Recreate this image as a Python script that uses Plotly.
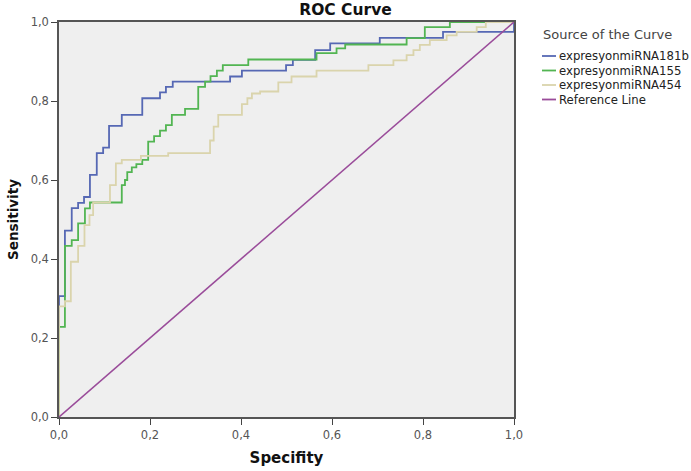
import plotly.graph_objects as go

# ROC step vertices (1 - specificity, sensitivity)
fpr_181b = [0, 0.013, 0.028, 0.042, 0.055, 0.068, 0.083, 0.097, 0.110, 0.138, 0.183, 0.222,
            0.235, 0.250, 0.376, 0.402, 0.499, 0.514, 0.563, 0.596, 0.705, 0.844, 1.0, 1.0]
tpr_181b = [0, 0.306, 0.472, 0.529, 0.542, 0.557, 0.613, 0.668, 0.682, 0.737, 0.765, 0.807,
            0.822, 0.836, 0.849, 0.862, 0.877, 0.891, 0.904, 0.929, 0.946, 0.960, 0.975, 1.0]

fpr_155 = [0, 0.013, 0.028, 0.042, 0.057, 0.068, 0.138, 0.145, 0.150, 0.160, 0.170, 0.183,
           0.196, 0.209, 0.222, 0.235, 0.248, 0.277, 0.306, 0.321, 0.333, 0.347, 0.360, 0.416,
           0.566, 0.610, 0.629, 0.764, 0.804, 0.859, 1.0]
tpr_155 = [0, 0.228, 0.433, 0.448, 0.490, 0.528, 0.543, 0.587, 0.600, 0.620, 0.632, 0.640,
           0.651, 0.697, 0.711, 0.725, 0.739, 0.765, 0.780, 0.836, 0.849, 0.863, 0.877, 0.891,
           0.905, 0.921, 0.933, 0.943, 0.959, 0.987, 1.0]

fpr_454 = [0, 0.013, 0.026, 0.042, 0.056, 0.067, 0.075, 0.112, 0.125, 0.138, 0.180, 0.240,
           0.332, 0.340, 0.350, 0.402, 0.414, 0.424, 0.442, 0.482, 0.511, 0.566, 0.680, 0.735,
           0.764, 0.779, 0.793, 0.815, 0.852, 0.874, 0.918, 0.938, 1.0]
tpr_454 = [0, 0.280, 0.293, 0.393, 0.433, 0.486, 0.511, 0.543, 0.587, 0.642, 0.651, 0.661,
           0.668, 0.700, 0.735, 0.765, 0.792, 0.807, 0.819, 0.824, 0.847, 0.862, 0.877, 0.891,
           0.903, 0.916, 0.929, 0.942, 0.954, 0.966, 0.975, 0.987, 1.0]

ref_x = [0, 1]
ref_y = [0, 1]

series_names = ["expresyonmiRNA181b", "expresyonmiRNA155", "expresyonmiRNA454", "Reference Line"]
series_colors = ["#5668B4", "#52B552", "#DAD4AC", "#9A4C9A"]
legend_title = "Source of the Curve"
tick_vals = [0, 0.2, 0.4, 0.6, 0.8, 1.0]

W, H = 691, 471
ML, MR, MT, MB = 59, 177, 22, 54
PW, PH = W - ML - MR, H - MT - MB


def px_x(px):
    return (px - ML) / PW


def px_y(py):
    return (H - MB - py) / PH


fig = go.Figure()
data = [(fpr_181b, tpr_181b, "vh"), (fpr_155, tpr_155, "vh"), (fpr_454, tpr_454, "vh"),
        (ref_x, ref_y, "linear")]
for (xs, ys, shp), name, col in zip(data, series_names, series_colors):
    fig.add_trace(go.Scatter(x=xs, y=ys, mode="lines", name=name, showlegend=False,
                             line=dict(color=col, width=1.8 if shp == "vh" else 1.6, shape=shp)))

FONT = "DejaVu Sans, Verdana, sans-serif"
axis_common = dict(
    range=[0, 1], tickvals=tick_vals, tickformat=".1f",
    showgrid=False, zeroline=False, automargin=False,
    showline=True, mirror=True, linecolor="#555555", linewidth=1.5,
    ticks="outside", ticklen=6, tickcolor="#444444", tickwidth=1.2,
    tickfont=dict(family=FONT, size=11.5, color="#555555"),
)

# legend drawn as annotations/shapes to match the compact SPSS legend
annotations = [dict(text=legend_title, xref="paper", yref="paper",
                    x=px_x(607), y=px_y(35), xanchor="center", yanchor="middle",
                    showarrow=False, font=dict(family=FONT, size=13, color="#444444"))]
shapes = []
item_y = [56, 70.5, 85, 99.5]
for name, col, yy in zip(series_names, series_colors, item_y):
    shapes.append(dict(type="line", xref="paper", yref="paper",
                       x0=px_x(542), x1=px_x(556), y0=px_y(yy), y1=px_y(yy),
                       line=dict(color=col, width=1.8)))
    annotations.append(dict(text=name, xref="paper", yref="paper",
                            x=px_x(557), y=px_y(yy), xanchor="left", yanchor="middle",
                            showarrow=False, font=dict(family=FONT, size=11.7, color="#222222")))

fig.update_layout(
    width=W, height=H,
    margin=dict(l=ML, r=MR, t=MT, b=MB, autoexpand=False),
    separators=",.",
    paper_bgcolor="white",
    plot_bgcolor="#EFEFEF",
    showlegend=False,
    title=dict(text="<b>ROC Curve</b>", x=0.5, xref="container", xanchor="center",
               y=0.991, yref="container", yanchor="top",
               font=dict(family=FONT, size=15.5, color="#111111")),
    xaxis=dict(**axis_common,
               title=dict(text="<b>Specifity</b>", standoff=12,
                          font=dict(family=FONT, size=15, color="#111111"))),
    yaxis=dict(**axis_common,
               title=dict(text="<b>Sensitivity</b>", standoff=9,
                          font=dict(family=FONT, size=13.5, color="#111111"))),
    annotations=annotations,
    shapes=shapes,
)

fig.write_html("out.html")
